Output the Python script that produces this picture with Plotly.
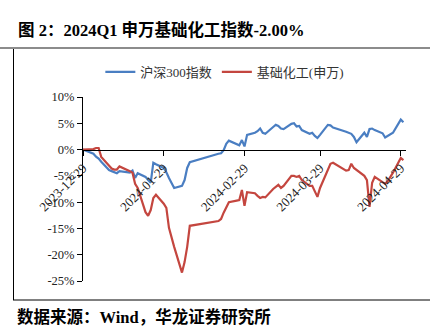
import plotly.graph_objects as go

# Trading days, 2023-12-29 .. 2024-04-30
dates = [
    "2023-12-29",
    "2024-01-02", "2024-01-03", "2024-01-04", "2024-01-05",
    "2024-01-08", "2024-01-09", "2024-01-10", "2024-01-11", "2024-01-12",
    "2024-01-15", "2024-01-16", "2024-01-17", "2024-01-18", "2024-01-19",
    "2024-01-22", "2024-01-23", "2024-01-24", "2024-01-25", "2024-01-26",
    "2024-01-29", "2024-01-30", "2024-01-31", "2024-02-01", "2024-02-02",
    "2024-02-05", "2024-02-06", "2024-02-07", "2024-02-08",
    "2024-02-19", "2024-02-20", "2024-02-21", "2024-02-22", "2024-02-23",
    "2024-02-26", "2024-02-27", "2024-02-28", "2024-02-29", "2024-03-01",
    "2024-03-04", "2024-03-05", "2024-03-06", "2024-03-07", "2024-03-08",
    "2024-03-11", "2024-03-12", "2024-03-13", "2024-03-14", "2024-03-15",
    "2024-03-18", "2024-03-19", "2024-03-20", "2024-03-21", "2024-03-22",
    "2024-03-25", "2024-03-26", "2024-03-27", "2024-03-28", "2024-03-29",
    "2024-04-01", "2024-04-02", "2024-04-03",
    "2024-04-08", "2024-04-09", "2024-04-10", "2024-04-11", "2024-04-12",
    "2024-04-15", "2024-04-16", "2024-04-17", "2024-04-18", "2024-04-19",
    "2024-04-22", "2024-04-23", "2024-04-24", "2024-04-25", "2024-04-26",
    "2024-04-29", "2024-04-30",
]

# Cumulative return (%) of CSI 300
hs300 = [
    0.0,
    -0.8, -1.35, -1.7, -2.3,
    -3.9, -4.1, -4.3, -4.5, -4.1,
    -4.3, -4.4, -4.0, -5.4, -4.5,
    -5.2, -5.8, -6.3, -2.5, -2.8,
    -3.5, -4.3, -5.4, -6.3, -7.3,
    -6.9, -5.8, -3.5, -2.4,
    -0.8, -0.7, -0.1, 1.1, 1.7,
    1.1, 0.8, 1.8, 0.6, 2.8,
    3.2, 3.5, 4.0, 3.2, 3.0,
    4.3, 4.7, 4.5, 4.0, 3.9,
    4.9, 5.0, 4.4, 4.5, 3.7,
    3.0, 3.2, 2.6, 2.2, 2.8,
    4.7, 4.6, 4.2,
    3.4, 3.2, 3.0, 2.4, 1.4,
    3.2, 2.4, 3.9, 4.0, 3.7,
    3.1, 2.3, 2.6, 2.9, 3.2,
    5.7, 5.2,
]

# Cumulative return (%) of SW basic chemicals
chem = [
    0.0,
    0.1, 0.3, 0.3, -1.4,
    -3.1, -3.6, -3.8, -3.8, -3.2,
    -3.8, -4.1, -4.4, -6.5, -7.3,
    -11.9, -12.6, -11.5, -9.2, -8.6,
    -10.3, -11.1, -14.9, -16.8, -18.5,
    -23.4, -21.4, -18.5, -14.5,
    -13.6, -13.2, -12.0, -10.9, -10.0,
    -9.7, -9.6, -7.7, -10.7, -8.1,
    -8.3, -8.8, -9.2, -9.0, -9.1,
    -7.5, -7.1, -6.7, -7.3, -6.9,
    -5.0, -5.0, -5.2, -5.0, -5.8,
    -6.9, -6.9, -8.0, -9.0, -7.3,
    -3.9, -2.7, -2.5,
    -4.0, -3.9, -2.7, -3.5, -3.9,
    -5.0, -5.8, -10.9, -6.3, -5.2,
    -6.2, -6.5, -6.0, -5.2, -4.4,
    -1.6, -2.0,
]

series_names = ["沪深300指数", "基础化工(申万)"]
x_ticks = ["2023-12-29", "2024-01-29", "2024-02-29", "2024-03-29", "2024-04-29"]
y_ticks = [10, 5, 0, -5, -10, -15, -20, -25]
y_tick_text = ["10%", "5%", "0%", "-5%", "-10%", "-15%", "-20%", "-25%"]

W, H = 447, 326
SERIF = "Liberation Serif, 'Times New Roman', 'Noto Sans CJK SC', serif"
CJK = "'Liberation Serif', 'Noto Sans CJK SC', serif"

fig = go.Figure()
fig.add_trace(go.Scatter(x=dates, y=hs300, mode="lines", name=series_names[0],
                         line=dict(color="#4A7EC2", width=2.2)))
fig.add_trace(go.Scatter(x=dates, y=chem, mode="lines", name=series_names[1],
                         line=dict(color="#C4463F", width=2.2)))

# plot box in pixels
px_l, px_r, px_t, px_b = 83, 406, 97, 281
y_lo, y_hi = -25, 10
zero_frac = ((H - px_b) + (px_b - px_t) * (0 - y_lo) / (y_hi - y_lo)) / H

fig.update_layout(
    width=W, height=H,
    margin=dict(l=0, r=0, t=0, b=0, autoexpand=False),
    paper_bgcolor="white", plot_bgcolor="white",
    showlegend=True,
    legend=dict(orientation="h", x=0.503, xanchor="center", y=(H - 72) / H, yanchor="middle",
                font=dict(family=CJK, size=13, color="#333333"),
                itemwidth=30, tracegroupgap=0, bgcolor="rgba(0,0,0,0)"),
    xaxis=dict(
        domain=[px_l / W, px_r / W],
        type="date",
        range=["2023-12-29", "2024-05-01"],
        anchor="free", position=zero_frac,
        automargin=False,
        showline=True, linecolor="#000000", linewidth=1,
        ticks="outside", ticklen=5, tickcolor="#000000",
        tickvals=x_ticks, ticktext=x_ticks, tickangle=-45,
        tickfont=dict(family=SERIF, size=13, color="#222222"),
        showgrid=False, zeroline=False,
    ),
    yaxis=dict(
        domain=[(H - px_b) / H, (H - px_t) / H],
        range=[y_lo, y_hi],
        automargin=False,
        showline=True, linecolor="#000000", linewidth=1,
        ticks="outside", ticklen=5, tickcolor="#000000",
        tickvals=y_ticks, ticktext=y_tick_text,
        tickfont=dict(family=SERIF, size=12.5, color="#222222"),
        showgrid=False, zeroline=False,
    ),
)

# report frame: gray rule under the title, left rule and bottom rule
fig.add_shape(type="line", xref="paper", yref="paper",
              x0=0, x1=430 / W, y0=(H - 48) / H, y1=(H - 48) / H,
              line=dict(color="#8C8C8C", width=2))
fig.add_shape(type="line", xref="paper", yref="paper",
              x0=13.5 / W, x1=13.5 / W, y0=(H - 49) / H, y1=(H - 300) / H,
              line=dict(color="#000000", width=1))
fig.add_shape(type="line", xref="paper", yref="paper",
              x0=13 / W, x1=430 / W, y0=(H - 300) / H, y1=(H - 300) / H,
              line=dict(color="#000000", width=1))

fig.add_annotation(text="<b>图 2：2024Q1 申万基础化工指数-2.00%</b>",
                   xref="paper", yref="paper", x=16 / W, y=(H - 30) / H,
                   xanchor="left", yanchor="middle", showarrow=False,
                   font=dict(family=CJK, size=16.5, color="#000000"))
fig.add_annotation(text="<b>数据来源：Wind，华龙证券研究所</b>",
                   xref="paper", yref="paper", x=15 / W, y=(H - 317) / H,
                   xanchor="left", yanchor="middle", showarrow=False,
                   font=dict(family=CJK, size=16.5, color="#000000"))

fig.write_html("out.html")
